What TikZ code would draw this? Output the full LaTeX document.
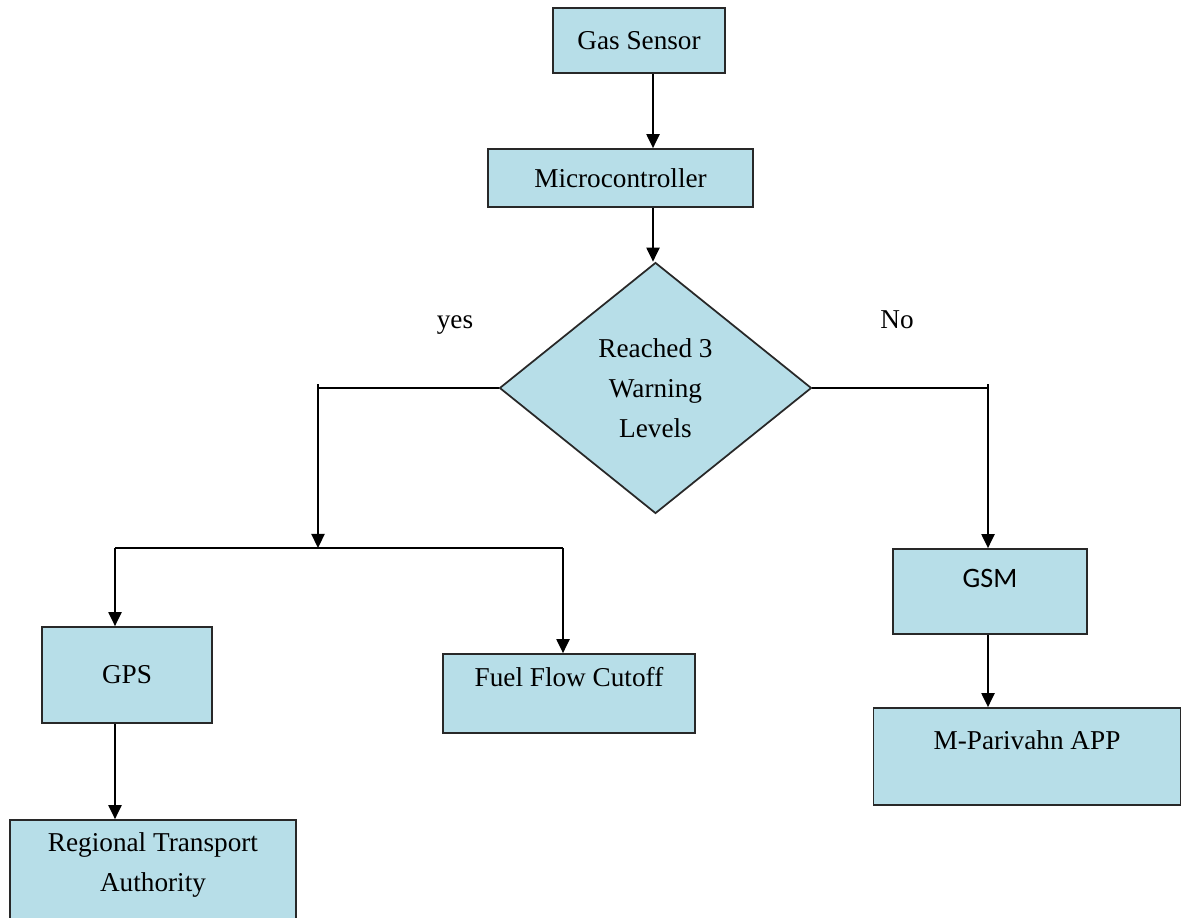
\documentclass[tikz,border=0pt]{standalone}
\usepackage{fontspec}
\setmainfont{Liberation Serif}
\newfontfamily\gsmfont{Carlito}
\usetikzlibrary{
    shapes.geometric,
    arrows.meta,
    positioning
}
\definecolor{boxblue}{RGB}{183, 222, 232}
\definecolor{edgegray}{RGB}{40, 40, 40}

\begin{document}
\begin{tikzpicture}[
        x=0.02cm, y=-0.02cm,
        block/.style={draw=edgegray, line width=1pt, fill=boxblue, align=center, inner sep=0pt, font=\fontsize{15.5}{22.7}\selectfont},
        lift/.style={text height=11pt, text depth=#1},
        decision/.style={diamond, draw=edgegray, line width=1pt, fill=boxblue, align=center, inner sep=0pt, font=\fontsize{15.5}{22.7}\selectfont},
        arrow/.style={-{Triangle[length=8pt, width=7.5pt]}, line width=1pt},
        line/.style={line width=1pt},
        tag/.style={anchor=base, font=\fontsize{15.5}{18}\selectfont}
    ]
        \useasboundingbox (0, 0) rectangle (1182, 918);

        % Sensor and controller
        \node[block, minimum width=3.44cm, minimum height=1.3cm] (gas) at (639, 40.5) {Gas Sensor};
        \node[block, minimum width=5.3cm, minimum height=1.16cm] (micro) at (620.5, 178) {Microcontroller};

        % Decision
        \node[decision, minimum width=6.24cm, minimum height=5.02cm] (dia) at (655.5, 388) {Reached 3\\Warning\\Levels};

        % Branch labels
        \node[tag] (yes) at (455, 329) {yes};
        \node[tag] (no) at (897, 329) {No};

        % yes branch
        \node[block, minimum width=3.4cm, minimum height=1.92cm] (gps) at (127, 675) {GPS};
        \node[block, lift=19pt, minimum width=5.04cm, minimum height=1.58cm] (fuel) at (569, 693.5) {Fuel Flow Cutoff};
        \node[block, text depth=15pt, minimum width=5.72cm, minimum height=2.2cm] (rta) at (153, 875) {Regional Transport\\Authority};

        % no branch
        \node[block, lift=15.5pt, font=\gsmfont\fontsize{16}{19}\selectfont, minimum width=3.88cm, minimum height=1.7cm] (gsm) at (990, 591.5) {GSM};
        \node[block, lift=19pt, minimum width=6.14cm, minimum height=1.94cm] (app) at (1027, 756.5) {M-Parivahn APP};

        % Corners
        \coordinate (spine) at (653, 0);
        \coordinate (ycorner) at (318, 388);
        \coordinate (split) at (318, 548);
        \coordinate (lsplit) at (115, 548);
        \coordinate (rsplit) at (563, 548);
        \coordinate (ncorner) at (988, 388);

        % Arrows
        \draw[arrow] (gas.south -| spine) -- (micro.north -| spine);
        \draw[arrow] (micro.south -| spine) -- (dia.north -| spine);
        \draw[line] (dia.west) -- (ycorner) -- ++(0, -4);
        \draw[arrow] (ycorner) -- (split);
        \draw[line] (lsplit) -- (rsplit);
        \draw[arrow] (lsplit) -- (gps.north -| lsplit);
        \draw[arrow] (rsplit) -- (fuel.north -| rsplit);
        \draw[arrow] (gps.south -| lsplit) -- (rta.north -| lsplit);
        \draw[line] (dia.east) -- (ncorner) -- ++(0, -4);
        \draw[arrow] (ncorner) -- (gsm.north -| ncorner);
        \draw[arrow] (gsm.south -| ncorner) -- (app.north -| ncorner);
    \end{tikzpicture}
\end{document}
